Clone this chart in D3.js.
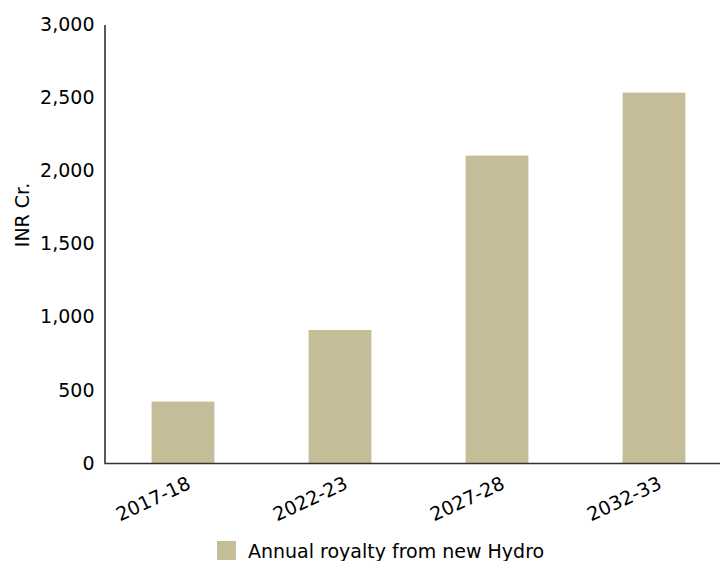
<!DOCTYPE html>
<html><head><meta charset="utf-8">
<script src="https://cdn.jsdelivr.net/npm/d3@7"></script>
<style>body{margin:0;background:#fff}svg text{font-family:"DejaVu Sans",sans-serif;fill:#000}</style>
</head><body><svg id="c" width="721" height="561"></svg>
<script>
const categories = ["2017-18","2022-23","2027-28","2032-33"];
const values = [420, 910, 2103, 2534];
const yTicks = [0,500,1000,1500,2000,2500,3000];
const seriesName = "Annual royalty from new Hydro";
const yTitle = "INR Cr.";

const svg = d3.select("#c");
const x = d3.scaleBand().domain(categories).range([104.5, 732.5]).paddingInner(0.6).paddingOuter(0.3);
const y = d3.scaleLinear().domain([0,3000]).range([463, 24.5]);
const color = "#C4BD97";
const fs = 19;

svg.selectAll("rect.bar").data(values).join("rect").attr("class","bar")
  .attr("x",(d,i)=>x(categories[i])).attr("width",x.bandwidth())
  .attr("y",d=>y(d)).attr("height",d=>y(0)-y(d)).attr("fill",color);

// y axis
const ya = svg.append("g").attr("transform","translate(104.5,0)")
  .call(d3.axisLeft(y).tickValues(yTicks).tickSize(0).tickPadding(10).tickFormat(d3.format(",")));
ya.select(".domain").attr("stroke","#000").attr("stroke-width",1.3);
ya.selectAll("text").attr("font-size",fs).style("font-family","'DejaVu Sans',sans-serif");

// x axis
const xa = svg.append("g").attr("transform","translate(0,463)")
  .call(d3.axisBottom(x).tickSize(0).tickFormat(d=>d));
xa.select(".domain").attr("d","M104.5,0.5H720").attr("stroke","#333").attr("stroke-width",1.3);
xa.selectAll(".tick text").attr("font-size",fs).style("font-family","'DejaVu Sans',sans-serif")
  .attr("text-anchor","end").attr("y",0).attr("dy",0)
  .attr("transform","translate(9,25) rotate(-25)");

// y title
svg.append("text").attr("transform","translate(29,215) rotate(-90)")
  .attr("text-anchor","middle").attr("font-size",fs).text(yTitle);

// legend
svg.append("rect").attr("x",217).attr("y",541).attr("width",19).attr("height",19).attr("fill",color);
svg.append("text").attr("x",248).attr("y",558).attr("font-size",fs).text(seriesName);
</script></body></html>
